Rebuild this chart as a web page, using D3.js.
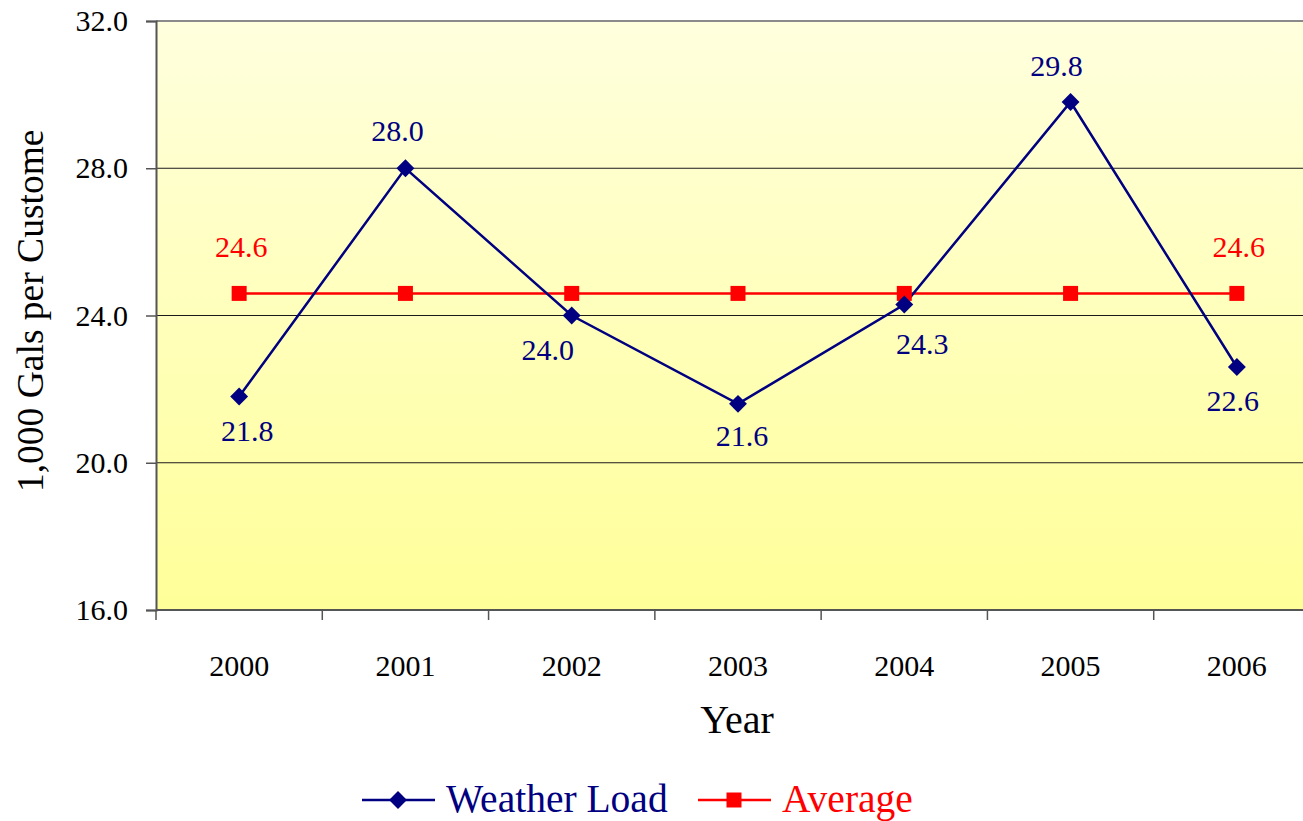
<!DOCTYPE html>
<html>
<head>
<meta charset="utf-8">
<script src="https://cdn.jsdelivr.net/npm/d3@7"></script>
<style>
  html, body { margin: 0; padding: 0; background: #ffffff; }
  svg { display: block; font-family: "Liberation Serif", "Times New Roman", serif; }
</style>
</head>
<body>
<svg id="chart" width="1303" height="821"></svg>
<script>
// Weather-normalised load per customer, 2000-2006
const years = ["2000", "2001", "2002", "2003", "2004", "2005", "2006"];
const weatherLoad = [21.8, 28.0, 24.0, 21.6, 24.3, 29.8, 22.6];
const average = [24.6, 24.6, 24.6, 24.6, 24.6, 24.6, 24.6];
const yTicks = [16, 20, 24, 28, 32];
const seriesNames = ["Weather Load", "Average"];

const svg = d3.select("#chart");
const serif = "'Liberation Serif', 'Times New Roman', serif";
const plot = { left: 156, top: 21, bottom: 610, right: 1320 };

const x = d3.scaleBand().domain(years).range([plot.left, plot.right]).padding(0);
const y = d3.scaleLinear().domain([16, 32]).range([plot.bottom, plot.top]);
const cx = d => x(d) + x.bandwidth() / 2;

const navy = "#000080", red = "#ff0000";

// Plot background gradient
const defs = svg.append("defs");
const grad = defs.append("linearGradient").attr("id", "bg")
  .attr("x1", 0).attr("y1", 0).attr("x2", 0).attr("y2", 1);
grad.append("stop").attr("offset", "0%").attr("stop-color", "#ffffde");
grad.append("stop").attr("offset", "100%").attr("stop-color", "#ffff99");

defs.append("clipPath").attr("id", "titleClip")
  .append("rect").attr("x", 0).attr("y", 129).attr("width", 70).attr("height", 600);

svg.append("rect")
  .attr("x", plot.left).attr("y", plot.top)
  .attr("width", plot.right - plot.left).attr("height", plot.bottom - plot.top)
  .attr("fill", "url(#bg)");

// Horizontal gridlines
svg.append("g").selectAll("line")
  .data(yTicks.filter(t => t !== 16 && t !== 32))
  .join("line")
  .attr("x1", plot.left).attr("x2", plot.right)
  .attr("y1", d => y(d)).attr("y2", d => y(d))
  .attr("stroke", "#1a1a1a").attr("stroke-width", 1);

// Top border of the plot area
svg.append("line")
  .attr("x1", plot.left).attr("x2", plot.right)
  .attr("y1", y(32)).attr("y2", y(32))
  .attr("stroke", "#8a8a8a").attr("stroke-width", 2);

// Y axis
const yAxis = svg.append("g")
  .attr("transform", `translate(${plot.left},0)`)
  .call(d3.axisLeft(y).tickValues(yTicks).tickFormat(d3.format(".1f")).tickSize(10).tickPadding(18));
yAxis.attr("font-family", serif);
yAxis.select(".domain").attr("stroke", "#555").attr("stroke-width", 2);
yAxis.selectAll(".tick line").attr("stroke", "#555").attr("stroke-width", 1.5);
yAxis.selectAll(".tick text")
  .attr("font-family", serif).attr("font-size", 30).attr("fill", "#000");

// X axis: labels centred in each band, tick marks at band boundaries
const xAxis = svg.append("g")
  .attr("transform", `translate(0,${plot.bottom})`)
  .call(d3.axisBottom(x).tickSize(0).tickPadding(45));
xAxis.attr("font-family", serif);
xAxis.select(".domain").remove();
xAxis.selectAll(".tick text")
  .attr("font-family", serif).attr("font-size", 30).attr("fill", "#000");

svg.append("line")
  .attr("x1", plot.left).attr("x2", plot.right)
  .attr("y1", plot.bottom).attr("y2", plot.bottom)
  .attr("stroke", "#555").attr("stroke-width", 2);
svg.append("g").selectAll("line")
  .data(years.concat(["end"]))
  .join("line")
  .attr("x1", (d, i) => plot.left + i * x.step())
  .attr("x2", (d, i) => plot.left + i * x.step())
  .attr("y1", plot.bottom).attr("y2", plot.bottom + 10)
  .attr("stroke", "#555").attr("stroke-width", 1.5);

// Axis titles
svg.append("text")
  .attr("x", 737).attr("y", 733)
  .attr("text-anchor", "middle")
  .attr("font-family", serif)
  .attr("font-size", 40).attr("fill", "#000")
  .text("Year");

svg.append("g").attr("clip-path", "url(#titleClip)")
  .append("text")
  .attr("transform", "translate(43,492) rotate(-90)")
  .attr("text-anchor", "start")
  .attr("font-family", serif)
  .attr("font-size", 37.5).attr("fill", "#000")
  .text("1,000 Gals per Customer");

// Series lines
const line = d3.line().x((d, i) => cx(years[i])).y(d => y(d));

svg.append("path").datum(average)
  .attr("d", line).attr("fill", "none")
  .attr("stroke", red).attr("stroke-width", 2.5);

svg.append("path").datum(weatherLoad)
  .attr("d", line).attr("fill", "none")
  .attr("stroke", navy).attr("stroke-width", 2.5);

// Markers
const square = d3.symbol().type(d3.symbolSquare).size(225);
const diamond = d3.symbol().type(d3.symbolSquare).size(160);

svg.append("g").selectAll("path")
  .data(average)
  .join("path")
  .attr("d", square)
  .attr("transform", (d, i) => `translate(${cx(years[i])},${y(d)})`)
  .attr("fill", red);

svg.append("g").selectAll("path")
  .data(weatherLoad)
  .join("path")
  .attr("d", diamond)
  .attr("transform", (d, i) => `translate(${cx(years[i])},${y(d)}) rotate(45)`)
  .attr("fill", navy);

// Data labels (offsets from each point, in pixels)
const loadLabelOffsets = [[8, 45], [-8, -27], [-24, 44], [4, 42], [18, 50], [-14, -26], [-4, 44]];
svg.append("g").selectAll("text")
  .data(weatherLoad)
  .join("text")
  .attr("x", (d, i) => cx(years[i]) + loadLabelOffsets[i][0])
  .attr("y", (d, i) => y(d) + loadLabelOffsets[i][1])
  .attr("text-anchor", "middle")
  .attr("font-family", serif)
  .attr("font-size", 30).attr("fill", navy)
  .text(d => d3.format(".1f")(d));

const avgLabelIdx = [0, years.length - 1];
svg.append("g").selectAll("text")
  .data(avgLabelIdx)
  .join("text")
  .attr("x", i => cx(years[i]) + 2)
  .attr("y", i => y(average[i]) - 36)
  .attr("text-anchor", "middle")
  .attr("font-family", serif)
  .attr("font-size", 30).attr("fill", red)
  .text(i => d3.format(".1f")(average[i]));

// Legend
const legend = svg.append("g");
const legendItems = [
  { name: seriesNames[0], color: navy, x0: 362, sym: "diamond" },
  { name: seriesNames[1], color: red, x0: 698, sym: "square" }
];
const ly = 800;
legendItems.forEach(it => {
  const g = legend.append("g");
  g.append("line")
    .attr("x1", it.x0).attr("x2", it.x0 + 73)
    .attr("y1", ly).attr("y2", ly)
    .attr("stroke", it.color).attr("stroke-width", 2.5);
  g.append("path")
    .attr("d", it.sym === "diamond" ? diamond : square)
    .attr("transform", `translate(${it.x0 + 36},${ly})` + (it.sym === "diamond" ? " rotate(45)" : ""))
    .attr("fill", it.color);
  g.append("text")
    .attr("x", it.x0 + 84).attr("y", 812)
    .attr("font-family", serif)
    .attr("font-size", 39.5).attr("fill", it.color)
    .text(it.name);
});
</script>
</body>
</html>
